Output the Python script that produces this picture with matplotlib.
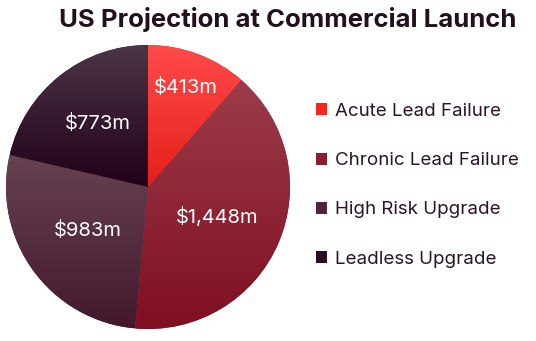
import numpy as np
import matplotlib.pyplot as plt
from matplotlib.colors import LinearSegmentedColormap
from matplotlib.patches import Patch

# segment sizes in $m
segments = ["Acute Lead Failure", "Chronic Lead Failure", "High Risk Upgrade", "Leadless Upgrade"]
values = [413, 1448, 983, 773]
value_labels = ["$413m", "$1,448m", "$983m", "$773m"]

# top / bottom shade of each slice
top_colors = ["#ff4b4b", "#9c3c4a", "#664252", "#4b3546"]
bottom_colors = ["#e51f18", "#7f0f20", "#43182d", "#210018"]
legend_colors = ["#f0261f", "#8a1e2e", "#52243a", "#2e0a22"]
label_dist = [0.75, 0.53, 0.52, 0.57]

plt.rcParams['font.family'] = ['Inter', 'DejaVu Sans']

fig = plt.figure(figsize=(5.36, 3.41), dpi=100)
ax = fig.add_axes([0, 0, 1, 1])

cx, cy, r = 148, 341 - 187, 142
wedges, _ = ax.pie(values, center=(cx, cy), radius=r, startangle=90,
                   counterclock=False, colors=legend_colors,
                   wedgeprops=dict(linewidth=0), frame=True)
ax.set_xlim(0, 536)
ax.set_ylim(0, 341)
ax.set_aspect('equal')
ax.axis('off')

# vertical gradient inside every wedge
grad = np.linspace(0, 1, 256).reshape(-1, 1)
for w, c0, c1 in zip(wedges, top_colors, bottom_colors):
    cmap = LinearSegmentedColormap.from_list("g", [c0, c1])
    bb = w.get_path().get_extents(w.get_patch_transform())
    im = ax.imshow(grad, cmap=cmap, aspect='auto', origin='upper',
                   extent=(bb.x0, bb.x1, bb.y0, bb.y1), zorder=2)
    im.set_clip_path(w)

for w, txt, d in zip(wedges, value_labels, label_dist):
    ang = np.deg2rad((w.theta1 + w.theta2) / 2)
    ax.text(cx + d * r * np.cos(ang), cy + d * r * np.sin(ang), txt,
            color="white", fontsize=14.5, ha="center", va="center", zorder=3)

fig.text(0.537, 0.942, "US Projection at Commercial Launch", ha="center", va="center",
         fontsize=18.5, fontweight="bold", color="#22101c")

handles = [Patch(facecolor=c, edgecolor="none") for c in legend_colors]
leg = ax.legend(handles, segments, loc="upper left", bbox_to_anchor=(0.575, 0.72),
                frameon=False, fontsize=13.5, handlelength=0.6, handleheight=0.6,
                handletextpad=0.45, labelspacing=1.72, borderaxespad=0)
for t in leg.get_texts():
    t.set_color("#2a1622")

fig.savefig("out.png", dpi=100, facecolor="white")
